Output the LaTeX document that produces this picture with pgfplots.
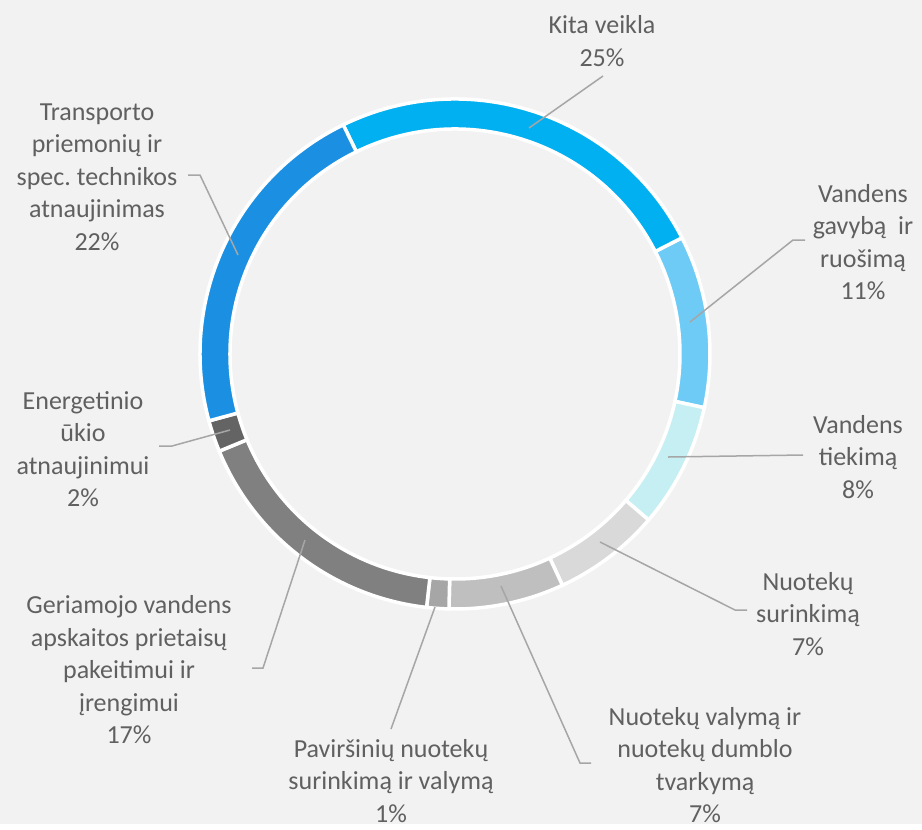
\documentclass[border=0pt]{standalone}
\usepackage{pgfplots}
\pgfplotsset{compat=1.18}
\usepackage{pgfplotstable}
\usepackage{fontspec}
\setmainfont{Carlito}
\frenchspacing
\definecolor{bg}{HTML}{F2F2F2}
\definecolor{c1}{HTML}{00B0F0}
\definecolor{c2}{HTML}{6DCBF5}
\definecolor{c3}{HTML}{C5EFF3}
\definecolor{c4}{HTML}{D9D9D9}
\definecolor{c5}{HTML}{BFBFBF}
\definecolor{c6}{HTML}{A6A6A6}
\definecolor{c7}{HTML}{808080}
\definecolor{c8}{HTML}{646464}
\definecolor{c9}{HTML}{1B90E2}
\definecolor{txt}{HTML}{606060}
\definecolor{lead}{HTML}{A6A6A6}
\pgfplotstableread{
pct col
24.7 c1
10.9 c2
7.9 c3
6.8 c4
7.3 c5
1.4 c6
17.0 c7
2.0 c8
22.0 c9
}\donut
\begin{document}
\begin{tikzpicture}
\begin{axis}[
  x=0.5pt, y=0.5pt, y dir=reverse,
  xmin=0, xmax=922, ymin=0, ymax=824,
  hide axis, clip=false, scale only axis,
]
\fill[bg] (axis cs:0,0) rectangle (axis cs:922,824);
\xdef\cum{-26}
\pgfplotstablegetrowsof{\donut}
\pgfmathtruncatemacro{\N}{\pgfplotsretval-1}
\foreach \i in {0,...,\N}{
  \pgfplotstablegetelem{\i}{pct}\of\donut \let\p\pgfplotsretval
  \pgfplotstablegetelem{\i}{col}\of\donut \let\c\pgfplotsretval
  \pgfmathsetmacro{\as}{90-\cum}
  \pgfmathsetmacro{\ae}{90-\cum-3.6*\p}
  \edef\temp{\noexpand\fill[\c, draw=white, line width=1.75pt] (axis cs:455,354) ++(\as:127.5pt) arc[start angle=\as, end angle=\ae, radius=127.5pt] -- ++(\ae:-15pt) arc[start angle=\ae, end angle=\as, radius=112.5pt] -- cycle;}
  \temp
  \pgfmathsetmacro{\nc}{\cum+3.6*\p}
  \xdef\cum{\nc}
}
% leader lines
\begin{scope}[lead, line width=0.75pt]
\draw (axis cs:529,128) -- (axis cs:603,76);
\draw (axis cs:690,322) -- (axis cs:793,240) -- (axis cs:805,240);
\draw (axis cs:668,457) -- (axis cs:803,455);
\draw (axis cs:600,542) -- (axis cs:735,610) -- (axis cs:747,610);
\draw (axis cs:501,586) -- (axis cs:580,763) -- (axis cs:591,763);
\draw (axis cs:435,607) -- (axis cs:391,729);
\draw (axis cs:305,540) -- (axis cs:263,668) -- (axis cs:252,668);
\draw (axis cs:230,430) -- (axis cs:172,446) -- (axis cs:159,446);
\draw (axis cs:238,255) -- (axis cs:200,175) -- (axis cs:188,175);
\end{scope}
% labels
\begin{scope}[every node/.style={text=txt, align=center, font=\fontsize{13}{16.25}\selectfont}]
\node at (axis cs:602,41) {Kita veikla\\25\%};
\node at (axis cs:863,242) {Vandens\\gavybą\ \ ir\\ruošimą\\11\%};
\node at (axis cs:858,457) {Vandens\\tiekimą\\8\%};
\node at (axis cs:808,614) {Nuotekų\\surinkimą\\7\%};
\node at (axis cs:705,765) {Nuotekų valymą ir\\nuotekų dumblo\\tvarkymą\\7\%};
\node at (axis cs:391,781) {Paviršinių nuotekų\\surinkimą ir valymą\\1\%};
\node at (axis cs:129,670) {Geriamojo vandens\\apskaitos prietaisų\\pakeitimui ir\\įrengimui\\17\%};
\node at (axis cs:83,449) {Energetinio\\ūkio\\atnaujinimui\\2\%};
\node at (axis cs:97,177) {Transporto\\priemonių ir\\spec. technikos\\atnaujinimas\\22\%};
\end{scope}
\end{axis}
\end{tikzpicture}
\end{document}
